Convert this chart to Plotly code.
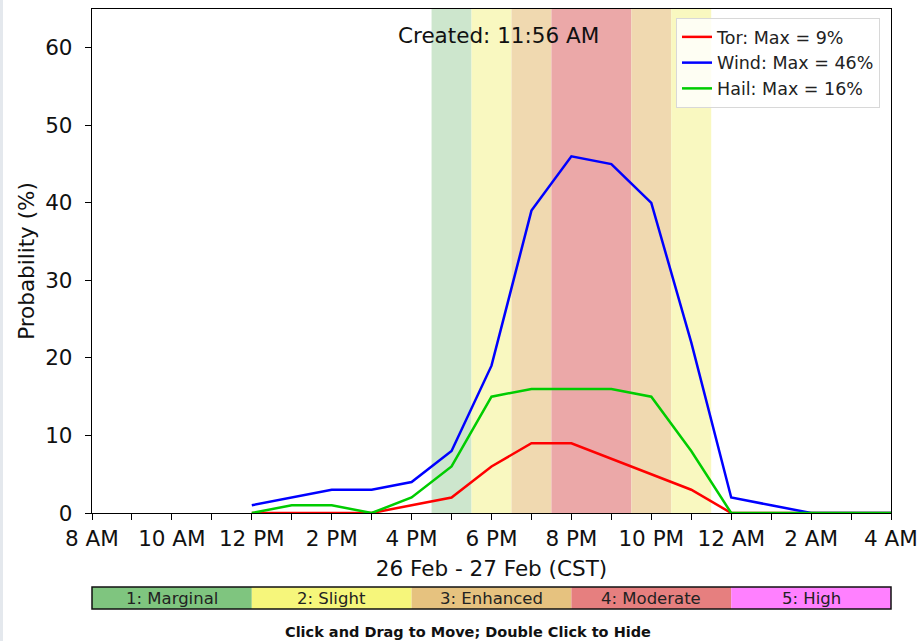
import plotly.graph_objects as go

# ---------------- data ----------------
times = ["2025-02-26 12:00", "2025-02-26 13:00", "2025-02-26 14:00", "2025-02-26 15:00",
         "2025-02-26 16:00", "2025-02-26 17:00", "2025-02-26 18:00", "2025-02-26 19:00",
         "2025-02-26 20:00", "2025-02-26 21:00", "2025-02-26 22:00", "2025-02-26 23:00",
         "2025-02-27 00:00", "2025-02-27 01:00", "2025-02-27 02:00", "2025-02-27 03:00",
         "2025-02-27 04:00"]
tor = [0, 0, 0, 0, 1, 2, 6, 9, 9, 7, 5, 3, 0, 0, 0, 0, 0]
wind = [1, 2, 3, 3, 4, 8, 19, 39, 46, 45, 40, 22, 2, 1, 0, 0, 0]
hail = [0, 1, 1, 0, 2, 6, 15, 16, 16, 16, 15, 8, 0, 0, 0, 0, 0]

# categorical risk by hour (band centred on the hour)
risk_start = ["2025-02-26 16:30", "2025-02-26 17:30", "2025-02-26 18:30", "2025-02-26 19:30",
              "2025-02-26 20:30", "2025-02-26 21:30", "2025-02-26 22:30"]
risk_end = ["2025-02-26 17:30", "2025-02-26 18:30", "2025-02-26 19:30", "2025-02-26 20:30",
            "2025-02-26 21:30", "2025-02-26 22:30", "2025-02-26 23:30"]
risk_level = [1, 2, 3, 4, 4, 3, 2]

cat_labels = ["1: Marginal", "2: Slight", "3: Enhanced", "4: Moderate", "5: High"]
cat_colors = ["#7FC57F", "#F6F67B", "#E6C27F", "#E67F7F", "#FF80FF"]
band_colors = ["#CDE6CD", "#F9F8C0", "#F0D9B0", "#EBA8A8", "#FFCCFF"]

tick_vals = ["2025-02-26 08:00", "2025-02-26 10:00", "2025-02-26 12:00", "2025-02-26 14:00",
             "2025-02-26 16:00", "2025-02-26 18:00", "2025-02-26 20:00", "2025-02-26 22:00",
             "2025-02-27 00:00", "2025-02-27 02:00", "2025-02-27 04:00"]
tick_text = ["8 AM", "10 AM", "12 PM", "2 PM", "4 PM", "6 PM", "8 PM", "10 PM",
             "12 AM", "2 AM", "4 AM"]

FONT = "DejaVu Sans"
W, H = 920, 641
# plot area in page pixels: x 92..891, y 9..513
ML, MR, MT, MB = 92, W - 891, 9, H - 513
PW = W - ML - MR
PH = H - MT - MB


def px_x(px):
    """page pixel x -> paper x"""
    return (px - ML) / PW


def px_y(py):
    """page pixel y -> paper y"""
    return (H - MB - py) / PH


fig = go.Figure()

fig.add_trace(go.Scatter(x=times, y=tor, mode="lines", name="Tor: Max = %d%%" % max(tor),
                         line=dict(color="#FF0000", width=2.5)))
fig.add_trace(go.Scatter(x=times, y=wind, mode="lines", name="Wind: Max = %d%%" % max(wind),
                         line=dict(color="#0000FF", width=2.5)))
fig.add_trace(go.Scatter(x=times, y=hail, mode="lines", name="Hail: Max = %d%%" % max(hail),
                         line=dict(color="#00CC00", width=2.5)))

# merge consecutive hours with the same risk level into one band (no seams)
merged = []
for s, e, lv in zip(risk_start, risk_end, risk_level):
    if merged and merged[-1][2] == lv and merged[-1][1] == s:
        merged[-1][1] = e
    else:
        merged.append([s, e, lv])

shapes = []
for s, e, lv in merged:
    shapes.append(dict(type="rect", xref="x", yref="paper", x0=s, x1=e, y0=0, y1=1,
                       fillcolor=band_colors[lv - 1], line=dict(width=0), layer="below"))

# colour bar under the chart
cb_y0, cb_y1 = px_y(609), px_y(587)
n = len(cat_labels)
annotations = []
for i, (lab, col) in enumerate(zip(cat_labels, cat_colors)):
    x0 = i / n
    x1 = (i + 1) / n
    shapes.append(dict(type="rect", xref="paper", yref="paper", x0=x0, x1=x1, y0=cb_y0, y1=cb_y1,
                       fillcolor=col, line=dict(width=0), layer="above"))
    annotations.append(dict(xref="paper", yref="paper", x=(x0 + x1) / 2, y=(cb_y0 + cb_y1) / 2,
                            text=lab, showarrow=False, xanchor="center", yanchor="middle",
                            font=dict(family=FONT, size=16.5, color="#222222")))
shapes.append(dict(type="rect", xref="paper", yref="paper", x0=0, x1=1, y0=cb_y0, y1=cb_y1,
                   fillcolor="rgba(0,0,0,0)", line=dict(color="#111111", width=1.5), layer="above"))

# light strip along the left edge of the page
shapes.append(dict(type="rect", xref="paper", yref="paper", x0=px_x(0), x1=px_x(3),
                   y0=px_y(H), y1=px_y(0), fillcolor="#E4E8ED", line=dict(width=0)))

annotations.append(dict(xref="paper", yref="paper", x=px_x(498), y=px_y(35),
                        text="Created: 11:56 AM", showarrow=False, xanchor="center",
                        yanchor="middle", font=dict(family=FONT, size=21.5, color="#111111")))
annotations.append(dict(xref="paper", yref="paper", x=px_x(468), y=px_y(632),
                        text="<b>Click and Drag to Move; Double Click to Hide</b>", showarrow=False,
                        xanchor="center", yanchor="middle",
                        font=dict(family=FONT, size=14.5, color="#111111")))

axis_common = dict(showline=True, linecolor="black", linewidth=1.3, mirror=True,
                   ticks="outside", ticklen=6, tickwidth=1.2, tickcolor="black",
                   showgrid=False, zeroline=False,
                   tickfont=dict(family=FONT, size=21.5, color="#111111"))

fig.update_layout(
    width=W, height=H,
    margin=dict(l=ML, r=MR, t=MT, b=MB, autoexpand=False),
    paper_bgcolor="white", plot_bgcolor="white",
    font=dict(family=FONT, color="#111111"),
    shapes=shapes, annotations=annotations,
    showlegend=True,
    legend=dict(x=px_x(880), y=px_y(18), xanchor="right", yanchor="top",
                bgcolor="rgba(255,255,255,0.8)", bordercolor="#D8D8D8", borderwidth=1,
                font=dict(family=FONT, size=17.5, color="#222222"),
                tracegroupgap=0, itemwidth=30),
    xaxis=dict(type="date", range=["2025-02-26 08:00", "2025-02-27 04:00"],
               tickvals=tick_vals, ticktext=tick_text,
               minor=dict(ticks="outside", ticklen=6, tickwidth=1.2, tickcolor="black",
                          dtick=3600000, tick0="2025-02-26 08:00", showgrid=False),
               title=dict(text="26 Feb - 27 Feb (CST)", standoff=10,
                          font=dict(family=FONT, size=21.5, color="#111111")),
               **axis_common),
    yaxis=dict(range=[0, 65], tickvals=[0, 10, 20, 30, 40, 50, 60],
               ticklabelstandoff=8,
               title=dict(text="Probability (%)", standoff=4,
                          font=dict(family=FONT, size=21.5, color="#111111")),
               **axis_common),
)

fig.write_html("out.html",
               config={"displayModeBar": False},
               post_script="document.body.style.margin='0px';document.body.style.overflow='hidden';")
